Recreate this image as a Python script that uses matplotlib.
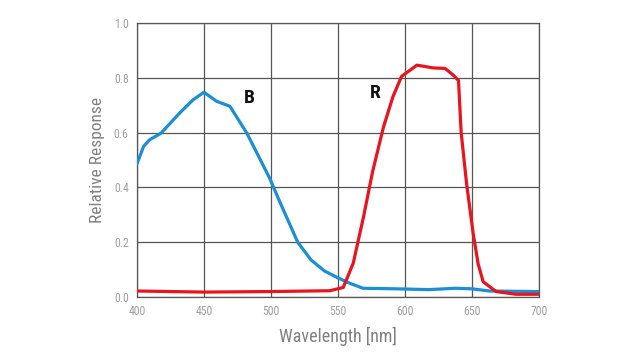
import matplotlib
matplotlib.use("Agg")
import matplotlib.pyplot as plt

FONT = ["Roboto Condensed", "Barlow Condensed", "DejaVu Sans"]

blue_wl = [400, 405, 409.5, 418, 432, 442, 450, 459.5, 469.4, 482, 499, 507, 520, 530, 540, 550, 559, 568.7, 593, 618, 638, 650, 663, 697, 700]
blue_val = [0.486, 0.55, 0.574, 0.598, 0.672, 0.72, 0.747, 0.714, 0.696, 0.598, 0.434, 0.343, 0.20, 0.135, 0.095, 0.07, 0.05, 0.032, 0.03, 0.027, 0.032, 0.03, 0.022, 0.02, 0.02]

red_wl = [400, 450, 500, 544, 554, 561.4, 569, 576, 584, 591, 597.5, 609, 621, 630, 636, 640, 642, 646, 651, 654.7, 658.4, 668, 683, 700]
red_val = [0.022, 0.018, 0.02, 0.023, 0.035, 0.123, 0.29, 0.46, 0.62, 0.73, 0.805, 0.846, 0.836, 0.834, 0.81, 0.79, 0.60, 0.415, 0.23, 0.12, 0.056, 0.02, 0.01, 0.01]

x_ticks = [400, 450, 500, 550, 600, 650, 700]
y_ticks = [0.0, 0.2, 0.4, 0.6, 0.8, 1.0]

fig = plt.figure(figsize=(6.4, 3.64), dpi=100)
ax = fig.add_axes([0.214, 0.184, 0.628, 0.753])
ax.plot(blue_wl, blue_val, color="#1a8fd6", lw=2.3, solid_joinstyle="round", solid_capstyle="round", zorder=3)
ax.plot(red_wl, red_val, color="#e8141e", lw=2.3, solid_joinstyle="round", solid_capstyle="round", zorder=4)
ax.set_xlim(400, 700)
ax.set_ylim(0, 1.0)
ax.set_xticks(x_ticks)
ax.set_yticks(y_ticks)
ax.set_yticklabels([f"{v:.1f}" for v in y_ticks])
ax.grid(True, color="#555555", lw=0.9)
for s in ax.spines.values():
    s.set_color("#555555")
    s.set_linewidth(0.9)
ax.tick_params(length=0, pad=6, colors="#a0a0a0", labelsize=8.5)
for lab in ax.get_xticklabels() + ax.get_yticklabels():
    lab.set_family(FONT)
ax.set_xlabel("Wavelength [nm]", family=FONT, fontsize=13, color="#808080", labelpad=6)
ax.set_ylabel("Relative Response", family=FONT, fontsize=12.5, color="#808080", labelpad=6)
ax.text(484, 0.725, "B", family=FONT, fontsize=14, fontweight="bold", color="#111111", ha="center", va="center")
ax.text(578, 0.745, "R", family=FONT, fontsize=14, fontweight="bold", color="#111111", ha="center", va="center")
fig.savefig("out.png", dpi=100)
